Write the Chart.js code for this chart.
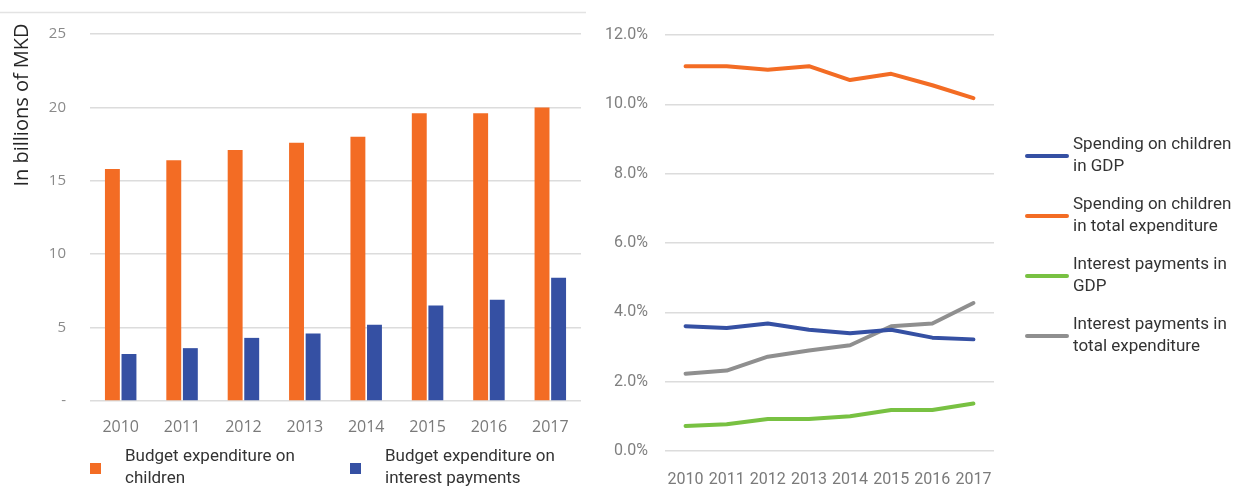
<!DOCTYPE html>
<html>
<head>
<meta charset="utf-8">
<title>Budget expenditure on children and interest payments</title>
<script src="https://cdn.jsdelivr.net/npm/chart.js@4.4.1/dist/chart.umd.min.js"></script>
<style>
  html, body { margin: 0; padding: 0; background: #fff; }
  #wrap { position: relative; width: 1236px; height: 486px; overflow: hidden; }
  #bars { position: absolute; left: 0; top: 0; }
  #lines { position: absolute; left: 595px; top: 0; }
</style>
</head>
<body>
<div id="wrap">
  <canvas id="bars" width="595" height="486"></canvas>
  <canvas id="lines" width="641" height="486"></canvas>
</div>
<script>
// Years shared by both charts
const years = ['2010', '2011', '2012', '2013', '2014', '2015', '2016', '2017'];

// Left chart, in billions of MKD
const childBudget = [15.8, 16.4, 17.1, 17.6, 18.0, 19.6, 19.6, 20.0];
const interestBudget = [3.2, 3.6, 4.3, 4.6, 5.2, 6.5, 6.9, 8.4];
const billionMax = 25;
const billionStep = 5;

// Right chart, in percent
const childGdp = [3.6, 3.55, 3.68, 3.5, 3.4, 3.5, 3.27, 3.22];
const childTotal = [11.1, 11.1, 11.0, 11.1, 10.7, 10.88, 10.55, 10.18];
const interestGdp = [0.72, 0.77, 0.92, 0.92, 1.0, 1.18, 1.18, 1.37];
const interestTotal = [2.23, 2.32, 2.72, 2.9, 3.05, 3.6, 3.68, 4.27];
const percentMax = 12;
const percentStep = 2;

// Legend texts (one array of lines per series)
const barLegend = [['Budget expenditure on', 'children'], ['Budget expenditure on', 'interest payments']];
const lineLegend = [
  ['Spending on children', 'in GDP'],
  ['Spending on children', 'in total expenditure'],
  ['Interest payments in', 'GDP'],
  ['Interest payments in', 'total expenditure']
];
const axisTitle = 'In billions of MKD';

const ORANGE = '#f36c24';
const BLUE = '#3550a3';
const GREEN = '#78c142';
const GREY = '#8f8f8f';
const GRID = '#dcdcdc';

Chart.defaults.font.family = 'Roboto, sans-serif';
Chart.defaults.animation = false;

// Legend under the bars + rotated axis title + thin top rule
const barDecor = {
  id: 'barDecor',
  afterDraw(chart, args, opts) {
    const ctx = chart.ctx;
    ctx.save();

    ctx.strokeStyle = '#e3e3e3';
    ctx.lineWidth = 1.5;
    ctx.beginPath();
    ctx.moveTo(0, 12.5);
    ctx.lineTo(586, 12.5);
    ctx.stroke();

    ctx.translate(22, 105);
    ctx.rotate(-Math.PI / 2);
    ctx.fillStyle = '#262626';
    ctx.font = '20px "Open Sans"';
    ctx.textAlign = 'center';
    ctx.textBaseline = 'middle';
    ctx.fillText(axisTitle, 0, 0);
    ctx.setTransform(1, 0, 0, 1, 0, 0);

    ctx.font = '17px Roboto';
    ctx.textAlign = 'left';
    ctx.textBaseline = 'middle';
    chart.data.datasets.forEach((ds, i) => {
      const x = opts.xs[i];
      ctx.fillStyle = ds.backgroundColor;
      ctx.fillRect(x, opts.boxY, 11, 11);
      ctx.fillStyle = '#333';
      barLegend[i].forEach((line, j) => {
        ctx.fillText(line, x + opts.textGap, opts.textY + j * 22);
      });
    });
    ctx.restore();
  }
};

// Legend to the right of the lines
const lineDecor = {
  id: 'lineDecor',
  afterDraw(chart, args, opts) {
    const ctx = chart.ctx;
    ctx.save();
    ctx.font = '17px Roboto';
    ctx.textAlign = 'left';
    ctx.textBaseline = 'middle';
    ctx.lineCap = 'round';
    chart.data.datasets.forEach((ds, i) => {
      const top = opts.firstY + i * opts.step;
      ctx.strokeStyle = ds.borderColor;
      ctx.lineWidth = 4;
      ctx.beginPath();
      ctx.moveTo(opts.x, top + 11);
      ctx.lineTo(opts.x + 40, top + 11);
      ctx.stroke();
      ctx.fillStyle = '#333';
      lineLegend[i].forEach((line, j) => {
        ctx.fillText(line, opts.x + 46, top + j * 22);
      });
    });
    ctx.restore();
  }
};

new Chart(document.getElementById('bars'), {
  type: 'bar',
  data: {
    labels: years,
    datasets: [
      { data: childBudget, backgroundColor: ORANGE, categoryPercentage: 0.54, barPercentage: 0.9 },
      { data: interestBudget, backgroundColor: BLUE, categoryPercentage: 0.54, barPercentage: 0.9 }
    ]
  },
  options: {
    responsive: false,
    layout: { padding: { top: 34, right: 14, bottom: 0, left: 0 } },
    plugins: {
      legend: { display: false },
      tooltip: { enabled: false },
      barDecor: { xs: [90, 350], boxY: 463, textGap: 35, textY: 457 }
    },
    scales: {
      x: {
        grid: { display: false },
        border: { display: false },
        ticks: { color: '#7a7a7a', font: { family: '"Open Sans"', size: 16 }, padding: 9 },
        afterFit(scale) { scale.height = 85; }
      },
      y: {
        min: 0,
        max: billionMax,
        grid: { color: GRID, lineWidth: 1.5, drawTicks: false },
        border: { display: false },
        ticks: {
          stepSize: billionStep,
          color: '#8a8a8a',
          font: { family: '"Open Sans"', size: 15 },
          padding: 24,
          callback: v => (v === 0 ? '-' : v)
        },
        afterFit(scale) { scale.width = 90; }
      }
    }
  },
  plugins: [barDecor]
});

const lineStyle = { borderWidth: 4, pointRadius: 0, tension: 0, borderJoinStyle: 'round', borderCapStyle: 'round', fill: false };

new Chart(document.getElementById('lines'), {
  type: 'line',
  data: {
    labels: years,
    datasets: [
      Object.assign({ data: childGdp, borderColor: BLUE }, lineStyle),
      Object.assign({ data: childTotal, borderColor: ORANGE }, lineStyle),
      Object.assign({ data: interestGdp, borderColor: GREEN }, lineStyle),
      Object.assign({ data: interestTotal, borderColor: GREY }, lineStyle)
    ]
  },
  options: {
    responsive: false,
    layout: { padding: { top: 35, right: 242, bottom: 0, left: 0 } },
    plugins: {
      legend: { display: false },
      tooltip: { enabled: false },
      lineDecor: { x: 432, firstY: 145, step: 60 }
    },
    scales: {
      x: {
        offset: true,
        grid: { display: false },
        border: { display: false },
        ticks: { color: '#7a7a7a', font: { size: 16 }, padding: 11, maxRotation: 0, autoSkip: false },
        afterFit(scale) { scale.height = 35; }
      },
      y: {
        min: 0,
        max: percentMax,
        grid: { color: GRID, lineWidth: 1.5, drawTicks: false },
        border: { display: false },
        ticks: {
          stepSize: percentStep,
          color: '#7f7f7f',
          font: { size: 16 },
          padding: 17,
          callback: v => v.toFixed(1) + '%'
        },
        afterFit(scale) { scale.width = 70; }
      }
    }
  },
  plugins: [lineDecor]
});
</script>
</body>
</html>
